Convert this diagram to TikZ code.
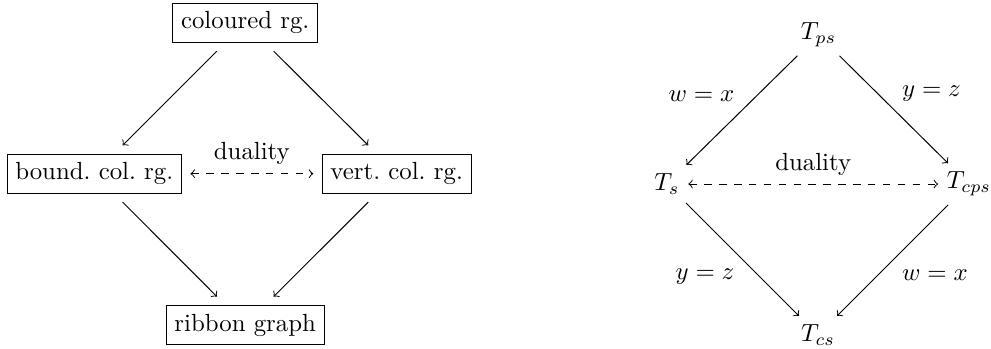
\documentclass[tikz,border=0pt]{standalone}
\begin{document}
\frenchspacing
\begin{tikzpicture}[x=0.4032pt,y=-0.4032pt,
  boxnode/.style={draw,line width=0.4pt,outer sep=3.6pt},
  mnode/.style={inner sep=3.33pt},
  arr/.style={->},
  dualarr/.style={<->,dashed},
  lbl/.style={anchor=base,inner sep=0pt}]
\useasboundingbox (0,0) rectangle (991,348);
% left diagram
\node[boxnode] (col) at (245.2,22.8) {coloured rg.};
\node[boxnode] (bnd) at (94.3,173.7) {bound. col. rg.};
\node[boxnode] (vrt) at (396.7,173.7) {vert. col. rg.};
\node[boxnode] (rib) at (245.2,325) {ribbon graph};
\draw[arr] (col) -- (bnd);
\draw[arr] (col) -- (vrt);
\draw[arr] (bnd) -- (rib);
\draw[arr] (vrt) -- (rib);
\draw[dualarr] (bnd) -- node[above] (d1) {duality} (vrt);
% right diagram
\node[mnode] (tps) at (818.5,35) {$T_{ps}$};
\node[mnode] (ts) at (667,184) {$T_{s}$};
\node[mnode] (tcps) at (969,184) {$T_{cps}$};
\node[mnode] (tcs) at (818,335) {$T_{cs}$};
\draw[arr] (tps) -- (ts);
\draw[arr] (tps) -- (tcps);
\draw[arr] (ts) -- (tcs);
\draw[arr] (tcps) -- (tcs);
\draw[dualarr] (ts) -- node[above] (d2) {duality} (tcps);
\node[lbl] (l1) at (701.5,101) {$w=x$};
\node[lbl] (l2) at (931.5,96) {$y=z$};
\node[lbl] (l3) at (705,279.5) {$y=z$};
\node[lbl] (l4) at (935,280) {$w=x$};
\end{tikzpicture}
\end{document}
